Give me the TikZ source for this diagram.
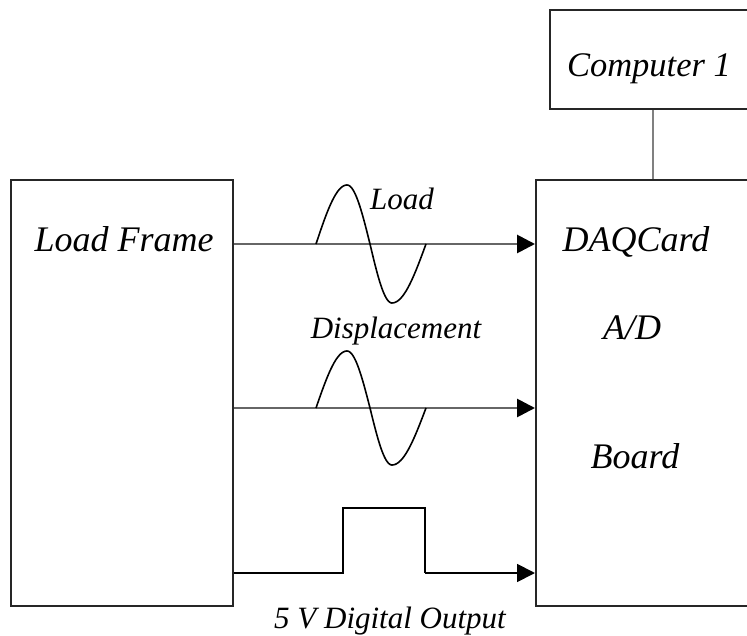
\documentclass[tikz,border=0pt]{standalone}
\usepackage{fontspec}
\setmainfont{Liberation Serif}
\usetikzlibrary{arrows.meta}
\begin{document}
\begin{tikzpicture}[x=1pt,y=-1pt,
  blk/.style={draw=black!85,line width=2pt,inner sep=0pt,anchor=north west},
  lbl/.style={inner sep=0pt,anchor=base,font=\itshape\fontsize{36}{40}\selectfont},
  slbl/.style={inner sep=0pt,anchor=base,font=\itshape\fontsize{31}{34}\selectfont},
  sig/.style={draw=black!60,line width=2.8pt,-{Triangle[length=18pt,width=18pt,color=black]}},
  wave/.style={draw=black,line width=1.6pt},
  pulse/.style={draw=black,line width=1.8pt,line join=miter}]
\useasboundingbox (0,0) rectangle (747,636);
\clip (0,0) rectangle (747,636);
% boxes
\node[blk,minimum width=222pt,minimum height=426pt] (lf) at (10,179) {};
\node[blk,minimum width=240pt,minimum height=426pt] (daq) at (535,179) {};
\node[blk,minimum width=220pt,minimum height=99pt] (pc) at (549,9) {};
% texts
\node[lbl] (tlf) at (124,252) {Load Frame};
\node[lbl] (tdaq) at (636,252) {DAQCard};
\node[lbl] (tad) at (632,340) {A/D};
\node[lbl] (tbd) at (635,468) {Board};
\node[lbl,font=\itshape\fontsize{34.5}{38}\selectfont] (tpc) at (649,77) {Computer 1};
\node[slbl,anchor=base west] (tload) at (370,210) {Load};
\node[slbl] (tdisp) at (396,338) {Displacement};
\node[slbl] (tdig) at (390,628) {5 V Digital Output};
% computer link
\coordinate (cx) at (653,0);
\draw[draw=black!50,line width=2pt] (pc.south -| cx) -- (daq.north -| cx);
% level coordinates
\coordinate (y1) at (0,244);
\coordinate (y2) at (0,408);
\coordinate (y3) at (0,573);
% signal lines
\draw[sig] (lf.east |- y1) -- (daq.west |- y1);
\draw[sig] (lf.east |- y2) -- (daq.west |- y2);
% waves (quarter segments to follow the reference's shape)
\foreach \yb/\am in {244/59,408/57}{
  \draw[wave] plot[domain=0:90,samples=20] ({316+31*\x/90},{\yb-\am*sin(\x)})
    -- plot[domain=90:180,samples=20] ({347+23*(\x-90)/90},{\yb-\am*sin(\x)})
    -- plot[domain=180:270,samples=20] ({370+22*(\x-180)/90},{\yb-\am*sin(\x)})
    -- plot[domain=270:360,samples=20] ({392+34*(\x-270)/90},{\yb-\am*sin(\x)});
}
% pulse
\coordinate (p1) at (343,508);
\coordinate (p2) at (425,508);
\draw[pulse] (lf.east |- y3) -- (p1 |- y3) -- (p1) -- (p2) -- (p2 |- y3);
\draw[pulse,-{Triangle[length=18pt,width=18pt]}] (p2 |- y3) -- (daq.west |- y3);
\end{tikzpicture}
\end{document}
